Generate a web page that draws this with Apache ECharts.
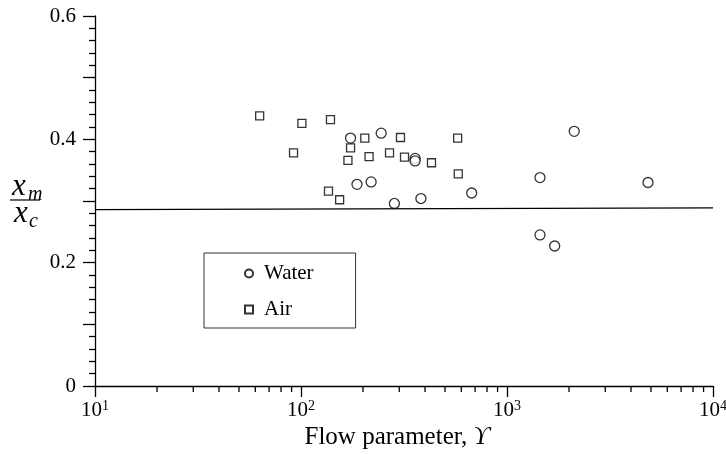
<!DOCTYPE html>
<html>
<head>
<meta charset="utf-8">
<script src="https://cdn.jsdelivr.net/npm/echarts@6/dist/echarts.min.js"></script>
<style>
html,body{margin:0;padding:0;background:#fff;}
#c{width:726px;height:454px;}
</style>
</head>
<body>
<div id="c"></div>
<script>
// ---- data ----
const waterX = [174, 245, 358, 358, 187, 219, 284, 382, 674, 2120, 1446, 4836, 1446, 1704];
const waterY = [0.402, 0.410, 0.369, 0.365, 0.327, 0.331, 0.296, 0.304, 0.313, 0.413, 0.338, 0.330, 0.245, 0.227];
const airX = [63, 101, 139, 92, 204, 304, 174, 169, 214, 269, 318, 430, 576, 580, 136, 154];
const airY = [0.438, 0.426, 0.432, 0.378, 0.402, 0.403, 0.386, 0.366, 0.372, 0.378, 0.371, 0.362, 0.402, 0.344, 0.316, 0.302];
const refLineX = [10, 10000];
const refLineY = [0.286, 0.289];
const minorTicksX = [20,30,40,50,60,70,80,90,200,300,400,500,600,700,800,900,2000,3000,4000,5000,6000,7000,8000,9000];
const yLabelValues = [0, 0.2, 0.4, 0.6];
const seriesNames = ['Water', 'Air'];
const xTitle = 'Flow parameter, ';
const xTitleSym = 'ϒ';

const FONT = "'Liberation Serif','Times New Roman',serif";
const zip = (a, b) => a.map((v, i) => [v, b[i]]);

const chart = echarts.init(document.getElementById('c'), null, {renderer: 'canvas'});
chart.setOption({
  animation: false,
  backgroundColor: '#fff',
  grid: {left: 95, right: 13, top: 16, bottom: 68, containLabel: false, outerBoundsMode: 'none'},
  legend: {
    data: [{name: seriesNames[0], icon: 'circle'}, {name: seriesNames[1], icon: 'rect'}],
    orient: 'vertical',
    left: 204, top: 253,
    padding: [10, 42, 8, 40],
    itemGap: 15,
    itemWidth: 8, itemHeight: 8,
    borderColor: '#333', borderWidth: 1,
    textStyle: {fontFamily: FONT, fontSize: 21, color: '#000', lineHeight: 21, padding: [0, 0, 0, 6]},
    selectedMode: false
  },
  xAxis: {
    type: 'log', logBase: 10, min: 10, max: 10000,
    axisLine: {lineStyle: {color: '#000', width: 1.3}},
    axisTick: {show: true, inside: false, length: 11, lineStyle: {color: '#000', width: 1.3}},
    splitLine: {show: false},
    axisLabel: {
      margin: 13,
      formatter: function (v) {
        const e = Math.round(Math.log10(v));
        return '{b|10}{s|' + e + '}';
      },
      rich: {
        b: {fontFamily: FONT, fontSize: 21, color: '#000', lineHeight: 22},
        s: {fontFamily: FONT, fontSize: 14, color: '#000', verticalAlign: 'top', lineHeight: 14}
      }
    },
    name: '{a|' + xTitle + '}{i|' + xTitleSym + '}',
    nameLocation: 'middle',
    nameGap: 39,
    nameTextStyle: {
      padding: [0, 14, 0, 0],
      rich: {
        a: {fontFamily: FONT, fontSize: 25, color: '#000'},
        i: {fontFamily: FONT, fontSize: 25, color: '#000', fontStyle: 'italic'}
      }
    }
  },
  yAxis: {
    type: 'value', min: 0, max: 0.6, interval: 0.1,
    axisLine: {show: true, lineStyle: {color: '#000', width: 1.3}},
    axisTick: {show: true, inside: false, length: 12, lineStyle: {color: '#000', width: 1.3}},
    minorTick: {show: true, splitNumber: 5, length: 6, lineStyle: {color: '#000', width: 1.3}},
    splitLine: {show: false},
    minorSplitLine: {show: false},
    axisLabel: {
      margin: 19,
      fontFamily: FONT, fontSize: 21, color: '#000',
      formatter: function (v) {
        const hit = yLabelValues.find(t => Math.abs(t - v) < 1e-6);
        return hit === undefined ? '' : String(hit);
      }
    }
  },
  graphic: [
    {type: 'text', left: 12, top: 171, style: {text: 'x', font: 'italic 31px ' + FONT, fill: '#000'}},
    {type: 'text', left: 28, top: 185, style: {text: 'm', font: 'italic 20px ' + FONT, fill: '#000'}},
    {type: 'line', shape: {x1: 10, y1: 200, x2: 40, y2: 200}, style: {stroke: '#000', lineWidth: 1.2}},
    {type: 'text', left: 14, top: 198, style: {text: 'x', font: 'italic 31px ' + FONT, fill: '#000'}},
    {type: 'text', left: 29, top: 212, style: {text: 'c', font: 'italic 20px ' + FONT, fill: '#000'}}
  ],
  series: [
    {
      name: 'Water', type: 'scatter',
      symbol: 'circle', symbolSize: 10,
      itemStyle: {color: '#fff', borderColor: '#000', borderWidth: 1.3},
      data: zip(waterX, waterY), z: 3
    },
    {
      name: 'Air', type: 'scatter',
      symbol: 'rect', symbolSize: 8,
      itemStyle: {color: '#fff', borderColor: '#000', borderWidth: 1.3},
      data: zip(airX, airY), z: 3
    },
    {
      name: 'ref', type: 'line', data: zip(refLineX, refLineY),
      symbol: 'none', silent: true,
      lineStyle: {color: '#000', width: 1.2}, z: 2
    },
    {
      name: 'minorTicks', type: 'custom', silent: true, clip: false,
      data: minorTicksX.map(v => [v, 0]),
      renderItem: function (params, api) {
        const p = api.coord([api.value(0), api.value(1)]);
        return {
          type: 'line',
          shape: {x1: p[0], y1: p[1], x2: p[0], y2: p[1] + 6},
          style: {stroke: '#000', lineWidth: 1.3}
        };
      }
    }
  ]
});
</script>
</body>
</html>
